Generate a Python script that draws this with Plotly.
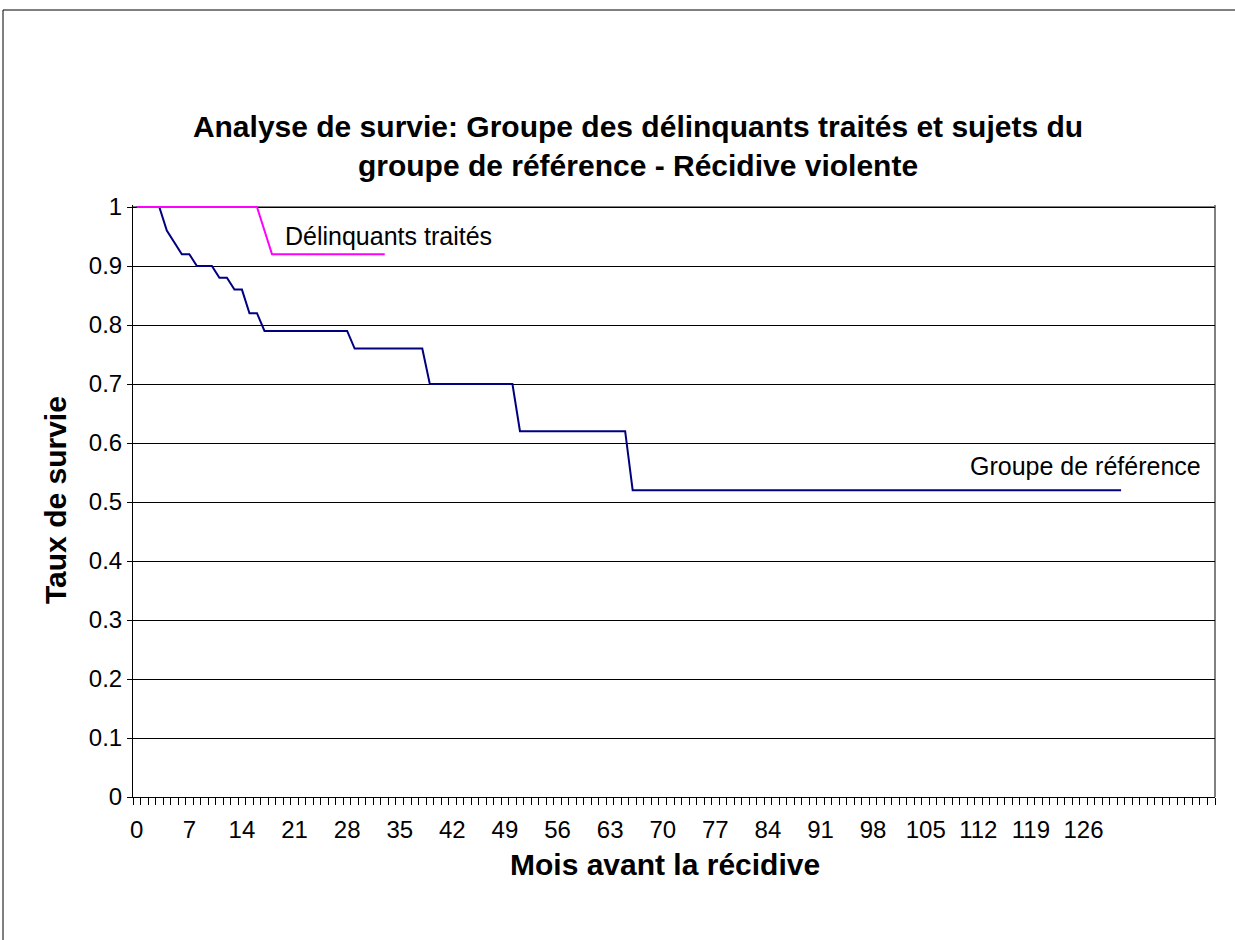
import plotly.graph_objects as go

# Data (month index, survival rate)
ref_months = [0, 3, 4, 6, 7, 8, 10, 11, 12, 13, 14, 15, 16, 17, 28, 29, 38, 39, 50, 51, 65, 66, 131]
ref_values = [1.0, 1.0, 0.96, 0.92, 0.92, 0.90, 0.90, 0.88, 0.88, 0.86, 0.86, 0.82, 0.82,
              0.79, 0.79, 0.76, 0.76, 0.70, 0.70, 0.62, 0.62, 0.52, 0.52]

treat_months = [0, 16, 18, 33]
treat_values = [1.0, 1.0, 0.92, 0.92]

x_tick_vals = list(range(0, 127, 7))
x_tick_text = [str(v) for v in x_tick_vals]
y_tick_vals = [i / 10 for i in range(0, 11)]
y_tick_text = ["0", "0.1", "0.2", "0.3", "0.4", "0.5", "0.6", "0.7", "0.8", "0.9", "1"]

FONT = "Liberation Sans, Arial, sans-serif"

fig = go.Figure()
fig.add_trace(go.Scatter(x=ref_months, y=ref_values, mode="lines",
                         line=dict(color="#000080", width=2), name="Groupe de référence"))
fig.add_trace(go.Scatter(x=treat_months, y=treat_values, mode="lines",
                         line=dict(color="#FF00FF", width=2), name="Délinquants traités"))

fig.update_layout(
    width=1235, height=940,
    margin=dict(l=133, r=20, t=205, b=143),
    paper_bgcolor="white", plot_bgcolor="white",
    showlegend=False,
    font=dict(family=FONT, color="black"),
    title=dict(
        text="Analyse de survie: Groupe des délinquants traités et sujets du<br>groupe de référence - Récidive violente",
        x=0.5166, xref="container", xanchor="center",
        y=1 - 137 / 940, yref="container", yanchor="middle",
        font=dict(family=FONT, size=30, color="black", weight="bold"),
    ),
    xaxis=dict(
        range=[-0.5, 143.5], tickmode="array", tickvals=x_tick_vals, ticktext=x_tick_text,
        ticks="outside", ticklen=7, tickcolor="rgba(0,0,0,0)",
        ticklabelstandoff=4,
        tickfont=dict(size=24, family=FONT),
        showgrid=False, zeroline=False,
        showline=True, linecolor="black", linewidth=1,
        minor=dict(ticks="outside", ticklen=7, tickcolor="black", tickwidth=1,
                   tickmode="linear", tick0=-0.5, dtick=1, showgrid=False),
        fixedrange=True,
    ),
    yaxis=dict(
        range=[0, 1.0034], tickmode="array", tickvals=y_tick_vals, ticktext=y_tick_text,
        ticks="outside", ticklen=5, tickcolor="black",
        tickfont=dict(size=24, family=FONT),
        showgrid=True, gridcolor="black", gridwidth=1,
        zeroline=False, showline=True, linecolor="black", linewidth=1,
        fixedrange=True,
    ),
    annotations=[
        dict(x=0.1386, y=0.9475, xref="paper", yref="paper", text="Délinquants traités",
             showarrow=False, xanchor="left", yanchor="middle", font=dict(size=25, family=FONT)),
        dict(x=0.7717, y=0.559, xref="paper", yref="paper", text="Groupe de référence",
             showarrow=False, xanchor="left", yanchor="middle", font=dict(size=25, family=FONT)),
        dict(x=(55 - 133) / 1082, y=(797 - 500) / 592, xref="paper", yref="paper",
             text="<b>Taux de survie</b>", textangle=-90,
             showarrow=False, xanchor="center", yanchor="middle", font=dict(size=30, family=FONT)),
        dict(x=(665 - 133) / 1082, y=(797 - 864) / 592, xref="paper", yref="paper",
             text="<b>Mois avant la récidive</b>",
             showarrow=False, xanchor="center", yanchor="middle", font=dict(size=30, family=FONT)),
    ],
    shapes=[
        # plot area border (grey) on top and right
        dict(type="line", xref="paper", yref="y", x0=0, x1=1, y0=1, y1=1,
             line=dict(color="#808080", width=2), layer="below"),
        dict(type="line", xref="paper", yref="paper", x0=1, x1=1, y0=0, y1=1,
             line=dict(color="#808080", width=2), layer="below"),
        # chart area border
        dict(type="rect", xref="paper", yref="paper", x0=(3 - 133) / 1082, x1=1.05,
             y0=-0.30, y1=(797 - 10) / 592,
             line=dict(color="black", width=1), fillcolor="rgba(0,0,0,0)", layer="below"),
    ],
)

fig.write_html("out.html", config={"displayModeBar": False},
               post_script="document.body.style.margin='0';")
